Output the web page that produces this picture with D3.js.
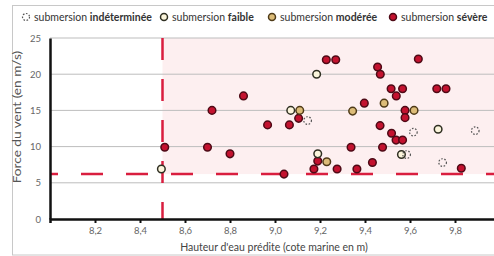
<!DOCTYPE html>
<html>
<head>
<meta charset="utf-8">
<script src="https://cdn.jsdelivr.net/npm/d3@7"></script>
<style>
    body { margin: 0; background: #fff; }
    svg { display: block; font-family: Lato, "Open Sans", sans-serif; }
</style>
</head>
<body>
<svg id="chart" width="494" height="256"></svg>
<script>
// categories of submersion (legend order)
const categories = ["indéterminée", "faible", "modérée", "sévère"];

// points [hauteur d'eau (m), force du vent (m/s)] per category
const indetermineePoints = [[9.145, 13.6], [9.615, 12.0], [9.89, 12.2], [9.585, 8.9], [9.745, 7.8]];
const faiblePoints = [[8.495, 6.9], [9.185, 20.0], [9.07, 15.0], [9.19, 9.0], [9.725, 12.4], [9.562, 8.9]];
const modereePoints = [[9.11, 15.0], [9.345, 14.9], [9.485, 16.0], [9.618, 15.0], [9.23, 7.9]];
const severePoints = [
    [8.51, 9.9], [8.70, 9.9], [8.80, 9.0], [8.72, 15.0], [8.86, 17.0],
    [8.967, 13.0], [9.064, 13.0], [9.04, 6.2], [9.105, 13.9], [9.228, 22.0],
    [9.27, 22.0], [9.19, 8.0], [9.173, 6.9], [9.276, 6.9], [9.364, 6.9],
    [9.338, 9.9], [9.397, 16.0], [9.433, 7.8], [9.456, 21.0], [9.468, 20.0],
    [9.467, 12.9], [9.478, 9.9], [9.516, 18.0], [9.567, 18.0], [9.539, 17.0],
    [9.578, 15.0], [9.578, 14.0], [9.518, 11.85], [9.538, 10.9], [9.567, 10.9],
    [9.637, 22.1], [9.719, 18.0], [9.76, 18.0], [9.828, 7.0]
];

// tick values
const xTicks = [8.2, 8.4, 8.6, 8.8, 9.0, 9.2, 9.4, 9.6, 9.8];
const yTicks = [0, 5, 10, 15, 20, 25];

// thresholds (dashed lines)
const seuilHauteur = 8.5;
const seuilVent = 6.2;

const svg = d3.select("#chart");

// scales
const x = d3.scaleLinear().domain([8, 10]).range([50, 500]);
const y = d3.scaleLinear().domain([0, 25]).range([219, 38]);

// outer frame
svg.append("rect")
    .attr("x", 12.5)
    .attr("y", 5.5)
    .attr("width", 500)
    .attr("height", 249.5)
    .style("fill", "none")
    .style("stroke", "#c8c8c8");

// pink zone
svg.append("rect")
    .attr("x", x(seuilHauteur))
    .attr("y", y(25))
    .attr("width", x(10) - x(seuilHauteur))
    .attr("height", y(seuilVent) - y(25))
    .style("fill", "#fdeff0");

// horizontal grid
svg.append("g")
    .selectAll("line")
    .data(yTicks.filter((d) => d > 0))
    .enter()
    .append("line")
    .attr("x1", x(8))
    .attr("x2", x(10))
    .attr("y1", (d) => y(d))
    .attr("y2", (d) => y(d))
    .style("stroke", "#bdbdbd")
    .style("stroke-width", 1);

// dashed threshold lines
svg.append("line")
    .attr("x1", x(8))
    .attr("x2", x(10))
    .attr("y1", y(seuilVent))
    .attr("y2", y(seuilVent))
    .style("stroke", "#d91e3f")
    .style("stroke-width", 2.5)
    .style("stroke-dasharray", "22,23")
    .style("stroke-dashoffset", 14);

svg.append("line")
    .attr("x1", x(seuilHauteur))
    .attr("x2", x(seuilHauteur))
    .attr("y1", y(25))
    .attr("y2", y(0))
    .style("stroke", "#d91e3f")
    .style("stroke-width", 2.5)
    .style("stroke-dasharray", "22,19");

// x axis
const xAxis = svg.append("g")
    .attr("transform", "translate(0," + y(0) + ")")
    .call(
        d3.axisBottom(x)
            .tickValues(xTicks)
            .tickSize(4)
            .tickPadding(2)
            .tickFormat((d) => d3.format(".1f")(d).replace(".", ","))
    );
xAxis.select(".domain").style("stroke", "#111").style("stroke-width", 2.5);
xAxis.selectAll(".tick line").style("stroke", "#111").style("stroke-width", 2);
xAxis.selectAll(".tick text")
    .attr("dy", "0.95em")
    .style("font-size", "9.5px")
    .style("fill", "#666")
    .style("font-family", "Lato, sans-serif");

// y axis
const yAxis = svg.append("g")
    .attr("transform", "translate(" + x(8) + ",0)")
    .call(d3.axisLeft(y).tickValues(yTicks).tickSize(0).tickPadding(9));
yAxis.select(".domain").style("stroke", "#111").style("stroke-width", 2.5);
yAxis.selectAll(".tick text")
    .style("font-size", "9.5px")
    .style("fill", "#666")
    .style("font-family", "Lato, sans-serif");

// axis titles
svg.append("text")
    .attr("text-anchor", "middle")
    .attr("transform", "translate(21,117)rotate(-90)scale(1.3,1)")
    .style("font-size", "10.5px")
    .style("fill", "#555")
    .text("Force du vent (en m/s)");

svg.append("text")
    .attr("x", 274)
    .attr("y", 251)
    .attr("text-anchor", "middle")
    .style("font-size", "10.5px")
    .style("fill", "#444")
    .text("Hauteur d'eau prédite (cote marine en m)");

// marker styles
const styles = {
    "indéterminée": { fill: "none", stroke: "#555", dash: "1.6,1.6", width: 1.2 },
    "faible": { fill: "#fbf5dc", stroke: "#2f2f22", dash: null, width: 1.5 },
    "modérée": { fill: "#dcbc78", stroke: "#4e3a18", dash: null, width: 1.5 },
    "sévère": { fill: "#c3122f", stroke: "#4e0a16", dash: null, width: 1.5 }
};
const series = [
    ["sévère", severePoints],
    ["modérée", modereePoints],
    ["faible", faiblePoints],
    ["indéterminée", indetermineePoints]
];

series.forEach(([cat, pts]) => {
    const s = styles[cat];
    svg.append("g")
        .selectAll("circle")
        .data(pts)
        .enter()
        .append("circle")
        .attr("cx", (d) => x(d[0]))
        .attr("cy", (d) => y(d[1]))
        .attr("r", 3.8)
        .style("fill", s.fill)
        .style("stroke", s.stroke)
        .style("stroke-width", s.width)
        .style("stroke-dasharray", s.dash);
});

// legend
const legendX = [26, 164, 272, 393];
const legend = svg.append("g").attr("transform", "translate(0,17)");
categories.forEach((cat, i) => {
    const s = styles[cat];
    legend.append("circle")
        .attr("cx", legendX[i])
        .attr("cy", 0)
        .attr("r", 3.5)
        .style("fill", s.fill)
        .style("stroke", s.stroke)
        .style("stroke-width", s.width)
        .style("stroke-dasharray", s.dash);
    const t = legend.append("text")
        .attr("x", legendX[i] + 8)
        .attr("y", 3.6)
        .style("font-size", "10.5px")
        .style("fill", "#333");
    t.append("tspan").text("submersion ");
    t.append("tspan").style("font-weight", "bold").text(cat);
});
</script>
</body>
</html>
